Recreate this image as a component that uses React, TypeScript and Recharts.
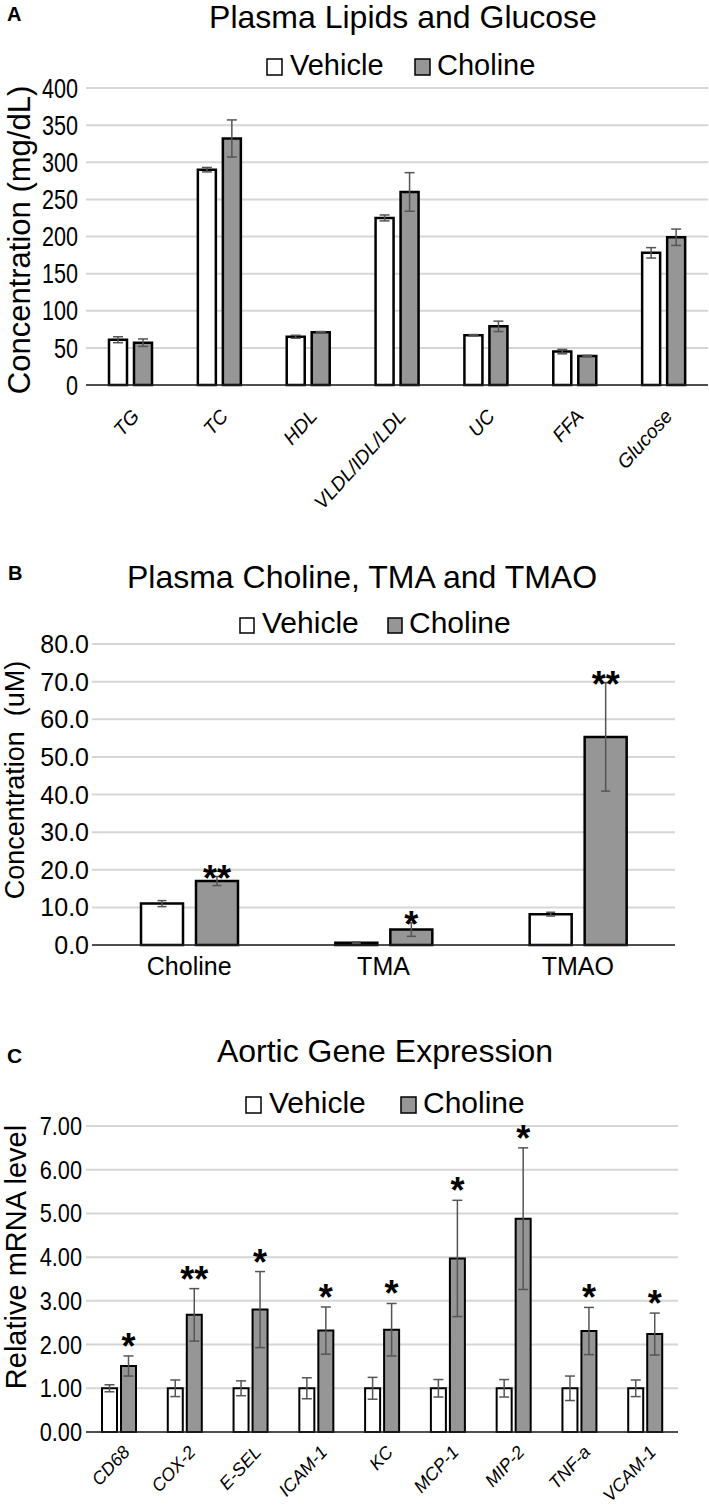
import React from 'react';
import { BarChart, Bar, XAxis, YAxis, CartesianGrid, ErrorBar, LabelList } from 'recharts';

const FONT = '"Liberation Sans", Arial, Helvetica, sans-serif';

// ---------- Panel A: Plasma Lipids and Glucose ----------
const lipidCategories = ['TG', 'TC', 'HDL', 'VLDL/IDL/LDL', 'UC', 'FFA', 'Glucose'];
const lipidVehicle = [61, 290, 65, 225, 67, 45, 178];
const lipidVehicleErr = [4, 3, 2, 4, 1, 3, 7];
const lipidCholine = [57, 332, 71, 260, 79, 39, 199];
const lipidCholineErr = [5, 25, 1, 26, 7, 1, 11];
const lipidTicks = [0, 50, 100, 150, 200, 250, 300, 350, 400];

// ---------- Panel B: Plasma Choline, TMA and TMAO ----------
const metabCategories = ['Choline', 'TMA', 'TMAO'];
const metabVehicle = [11.0, 0.6, 8.2];
const metabVehicleErr = [0.8, 0.2, 0.5];
const metabCholine = [17.0, 4.1, 55.3];
const metabCholineErr = [1.2, 1.8, 14.4];
const metabStars = ['**', '*', '**'];
const metabTicks = [0, 10, 20, 30, 40, 50, 60, 70, 80];

// ---------- Panel C: Aortic Gene Expression ----------
const geneCategories = ['CD68', 'COX-2', 'E-SEL', 'ICAM-1', 'KC', 'MCP-1', 'MIP-2', 'TNF-a', 'VCAM-1'];
const geneVehicle = [1.0, 1.0, 1.0, 1.0, 1.0, 1.0, 1.0, 1.0, 1.0];
const geneVehicleErr = [0.08, 0.19, 0.17, 0.24, 0.25, 0.2, 0.2, 0.28, 0.19];
const geneCholine = [1.51, 2.68, 2.8, 2.32, 2.34, 3.97, 4.88, 2.31, 2.24];
const geneCholineErr = [0.23, 0.6, 0.87, 0.54, 0.6, 1.33, 1.62, 0.54, 0.48];
const geneStars = ['*', '**', '*', '*', '*', '*', '*', '*', '*'];
const geneTicks = [0, 1, 2, 3, 4, 5, 6, 7];

const build = (cats: string[], v: number[], ve: number[], c: number[], ce: number[], stars?: string[]) =>
  cats.map((name, i) => ({
    name,
    vehicle: v[i],
    vehicleErr: ve[i],
    choline: c[i],
    cholineErr: ce[i],
    star: stars ? stars[i] : '',
  }));

const lipidData = build(lipidCategories, lipidVehicle, lipidVehicleErr, lipidCholine, lipidCholineErr);
const metabData = build(metabCategories, metabVehicle, metabVehicleErr, metabCholine, metabCholineErr, metabStars);
const geneData = build(geneCategories, geneVehicle, geneVehicleErr, geneCholine, geneCholineErr, geneStars);

const VEH_FILL = '#ffffff';
const CHO_FILL = '#969696';
const GRID = '#d6d6d6';
const ERR = '#555555';

const makeYTick = (fs: number, sx: number, gap: number, digits: number) => (p: any) => {
  const x = Number(p.x);
  const y = Number(p.y);
  return (
    <text
      transform={`translate(${x - gap},${y}) scale(${sx},1)`}
      textAnchor="end"
      dy="0.36em"
      fontSize={fs}
      fontFamily={FONT}
      fill="#000"
    >
      {Number(p.payload.value).toFixed(digits)}
    </text>
  );
};

const makeRotTick = (fs: number, angle: number, dx: number, dy: number, sx: number) => (p: any) => {
  const x = Number(p.x);
  const y = Number(p.y);
  return (
    <text
      transform={`translate(${x + dx},${y + dy}) rotate(${angle}) scale(${sx},1)`}
      textAnchor="end"
      fontSize={fs}
      fontStyle="italic"
      fontFamily={FONT}
      fill="#000"
    >
      {p.payload.value}
    </text>
  );
};

const makeFlatTick = (fs: number, dy: number) => (p: any) => {
  const x = Number(p.x);
  const y = Number(p.y);
  return (
    <text x={x} y={y + dy} textAnchor="middle" fontSize={fs} fontFamily={FONT} fill="#000">
      {p.payload.value}
    </text>
  );
};

const makeStar = (data: any[], fs: number, off: number) => (p: any) => {
  const idx = Number(p.index);
  const row = data[idx];
  if (!row || !row.star) return null;
  const x = Number(p.x);
  const y = Number(p.y);
  const w = Number(p.width);
  const h = Number(p.height);
  const ppu = h / row.choline;
  const errTop = y - row.cholineErr * ppu;
  return (
    <text x={x + w / 2} y={errTop + off} textAnchor="middle" fontSize={fs} fontWeight="bold" fontFamily={FONT} fill="#000">
      {row.star}
    </text>
  );
};

type LegendPos = { y: number; fs: number; sq: number; vx: number; cx: number };

const LegendItems = ({ y, fs, sq, vx, cx }: LegendPos) => (
  <g>
    <rect x={vx} y={y - sq} width={sq - 1} height={sq} fill={VEH_FILL} stroke="#000" strokeWidth={1.5} />
    <text x={vx + sq + 7} y={y} fontSize={fs} fontFamily={FONT} fill="#000">Vehicle</text>
    <rect x={cx} y={y - sq} width={sq - 1} height={sq} fill={CHO_FILL} stroke="#000" strokeWidth={1.5} />
    <text x={cx + sq + 6} y={y} fontSize={fs} fontFamily={FONT} fill="#000">Choline</text>
  </g>
);

export default function App() {
  return (
    <div style={{ position: 'absolute', left: 0, top: 0, width: 709, height: 1507, background: '#fff', fontFamily: FONT }}>
      {/* Panel A */}
      <div style={{ position: 'absolute', left: 0, top: 0 }}>
        <BarChart width={709} height={520} data={lipidData} margin={{ top: 88, right: 1, bottom: 0, left: 0 }} barGap={7} barSize={18}>
          <CartesianGrid vertical={false} stroke={GRID} strokeWidth={2} />
          <YAxis
            width={86}
            domain={[0, 400]}
            ticks={lipidTicks}
            axisLine={false}
            tickLine={false}
            tickSize={0}
            tickMargin={0}
            interval={0}
            tick={makeYTick(27, 0.8, 8, 0)}
          />
          <XAxis
            dataKey="name"
            height={135}
            axisLine={{ stroke: '#222', strokeWidth: 1.5 }}
            tickLine={false}
            tickSize={0}
            tickMargin={0}
            interval={0}
            tick={makeRotTick(19.5, -48, 10, 32, 1)}
          />
          <Bar dataKey="vehicle" fill={VEH_FILL} stroke="#000" strokeWidth={2.5} isAnimationActive={false}>
            <ErrorBar dataKey="vehicleErr" width={5} stroke={ERR} strokeWidth={1.5} direction="y" />
          </Bar>
          <Bar dataKey="choline" fill={CHO_FILL} stroke="#000" strokeWidth={2.5} isAnimationActive={false}>
            <ErrorBar dataKey="cholineErr" width={5} stroke={ERR} strokeWidth={1.5} direction="y" />
          </Bar>
        </BarChart>
      </div>

      {/* Panel B */}
      <div style={{ position: 'absolute', left: 0, top: 540 }}>
        <BarChart width={709} height={450} data={metabData} margin={{ top: 104, right: 34, bottom: 0, left: 0 }} barGap={13} barSize={42}>
          <CartesianGrid vertical={false} stroke={GRID} strokeWidth={2} />
          <YAxis
            width={92}
            domain={[0, 80]}
            ticks={metabTicks}
            axisLine={false}
            tickLine={false}
            tickSize={0}
            tickMargin={0}
            interval={0}
            tick={makeYTick(25, 1, 3, 1)}
          />
          <XAxis
            dataKey="name"
            height={45}
            axisLine={{ stroke: '#222', strokeWidth: 1.5 }}
            tickLine={false}
            tickSize={0}
            tickMargin={0}
            interval={0}
            tick={makeFlatTick(25, 30)}
          />
          <Bar dataKey="vehicle" fill={VEH_FILL} stroke="#000" strokeWidth={2.5} isAnimationActive={false}>
            <ErrorBar dataKey="vehicleErr" width={4.5} stroke={ERR} strokeWidth={1.5} direction="y" />
          </Bar>
          <Bar dataKey="choline" fill={CHO_FILL} stroke="#000" strokeWidth={2.5} isAnimationActive={false}>
            <ErrorBar dataKey="cholineErr" width={4.5} stroke={ERR} strokeWidth={1.5} direction="y" />
            <LabelList dataKey="star" content={makeStar(metabData, 36, 14)} />
          </Bar>
        </BarChart>
      </div>

      {/* Panel C */}
      <div style={{ position: 'absolute', left: 0, top: 1030 }}>
        <BarChart width={709} height={477} data={geneData} margin={{ top: 96, right: 31, bottom: 0, left: 0 }} barGap={4} barSize={15}>
          <CartesianGrid vertical={false} stroke={GRID} strokeWidth={2} />
          <YAxis
            width={86}
            domain={[0, 7]}
            ticks={geneTicks}
            axisLine={false}
            tickLine={false}
            tickSize={0}
            tickMargin={0}
            interval={0}
            tick={makeYTick(25, 0.87, 4, 2)}
          />
          <XAxis
            dataKey="name"
            height={75}
            axisLine={{ stroke: '#222', strokeWidth: 1.5 }}
            tickLine={false}
            tickSize={0}
            tickMargin={0}
            interval={0}
            tick={makeRotTick(18, -47, 12, 21, 1)}
          />
          <Bar dataKey="vehicle" fill={VEH_FILL} stroke="#000" strokeWidth={2} isAnimationActive={false}>
            <ErrorBar dataKey="vehicleErr" width={5} stroke={ERR} strokeWidth={1.5} direction="y" />
          </Bar>
          <Bar dataKey="choline" fill={CHO_FILL} stroke="#000" strokeWidth={2} isAnimationActive={false}>
            <ErrorBar dataKey="cholineErr" width={5} stroke={ERR} strokeWidth={1.5} direction="y" />
            <LabelList dataKey="star" content={makeStar(geneData, 36, 3)} />
          </Bar>
        </BarChart>
      </div>

      {/* Overlay text: panel letters, titles, legends, axis titles */}
      <svg width={709} height={1507} style={{ position: 'absolute', left: 0, top: 0, pointerEvents: 'none' }}>
        <text x={7} y={21} fontSize={20} fontWeight="bold" fontFamily={FONT}>A</text>
        <text x={403} y={28} fontSize={32} textAnchor="middle" fontFamily={FONT}>Plasma Lipids and Glucose</text>
        <LegendItems y={75} fs={29} sq={16} vx={267} cx={415} />
        <text transform="translate(30,240) rotate(-90)" textAnchor="middle" fontSize={31} fontFamily={FONT}>
          Concentration (mg/dL)
        </text>

        <text x={8} y={580} fontSize={20} fontWeight="bold" fontFamily={FONT}>B</text>
        <text x={362} y={588} fontSize={32} textAnchor="middle" fontFamily={FONT}>Plasma Choline, TMA and TMAO</text>
        <LegendItems y={633} fs={30} sq={15} vx={240} cx={388} />
        <text transform="translate(24,780) rotate(-90)" textAnchor="middle" fontSize={27} fontFamily={FONT} style={{ whiteSpace: 'pre' }}>
          {'Concentration  (uM)'}
        </text>

        <text x={7} y={1063} fontSize={21} fontWeight="bold" fontFamily={FONT}>C</text>
        <text x={385} y={1062} fontSize={32} textAnchor="middle" fontFamily={FONT}>Aortic Gene Expression</text>
        <LegendItems y={1113} fs={30} sq={16} vx={246} cx={401} />
        <text transform="translate(26,1257) rotate(-90)" textAnchor="middle" fontSize={29} fontFamily={FONT}>
          Relative mRNA level
        </text>
      </svg>
    </div>
  );
}
